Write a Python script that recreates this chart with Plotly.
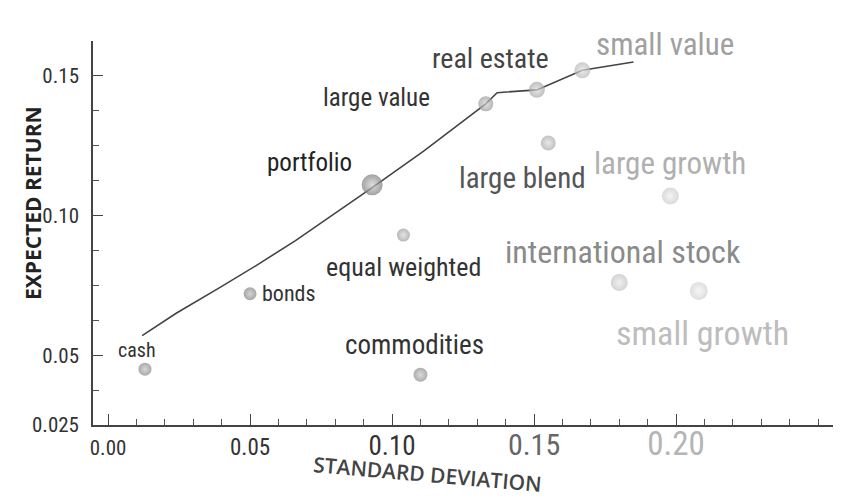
import plotly.graph_objects as go

# asset classes: risk (standard deviation) vs expected return
assets = ["cash", "bonds", "portfolio", "equal weighted", "commodities",
          "large value", "real estate", "small value", "large blend",
          "large growth", "international stock", "small growth"]
std_dev = [0.013, 0.050, 0.093, 0.104, 0.110, 0.133, 0.151, 0.167, 0.155, 0.198, 0.180, 0.208]
exp_ret = [0.045, 0.072, 0.111, 0.093, 0.043, 0.140, 0.145, 0.152, 0.126, 0.107, 0.076, 0.073]

# efficient frontier
frontier_sd = [0.012, 0.024, 0.039, 0.052, 0.066, 0.093, 0.111, 0.133, 0.137, 0.151, 0.167, 0.185]
frontier_ret = [0.057, 0.065, 0.074, 0.082, 0.091, 0.110, 0.123, 0.140, 0.144, 0.145, 0.152, 0.155]

x_ticks = [0.00, 0.05, 0.10, 0.15, 0.20]
x_labels = ["0.00", "0.05", "0.10", "0.15", "0.20"]
y_ticks = [0.025, 0.05, 0.10, 0.15]
y_labels = ["0.025", "0.05", "0.10", "0.15"]

# styling (text and points fade out to the right)
LABEL_FONT = "Roboto Condensed, DejaVu Sans Condensed, sans-serif"
TITLE_FONT = "Open Sans, DejaVu Sans, sans-serif"
label_size = [20, 22, 25, 26, 27, 25, 28, 31, 29, 31, 32, 34]
label_color = ["#333", "#333", "#222", "#333", "#333", "#333", "#444",
               "#a0a0a0", "#555", "#b0b0b0", "#8a8a8a", "#bdbdbd"]
# label offset from its point in pixels (dx, dy), anchor
label_pos = [(-8, 19, "center"), (10, 0, "left"), (-63, 22, "center"),
             (0, -32, "center"), (-6, 30, "center"), (-109, 6, "center"),
             (-46, 31, "center"), (12, 26, "left"), (-26, -35, "center"),
             (0, 33, "center"), (4, 31, "center"), (4, -42, "center")]
marker_size = [13, 13, 21, 13, 14, 15, 16, 16, 15, 17, 17, 18]
marker_edge = ["#858585", "#808080", "#7a7a7a", "#9a9a9a", "#8a8a8a", "#999999",
               "#a5a5a5", "#b5b5b5", "#a8a8a8", "#cacaca", "#c0c0c0", "#d0d0d0"]
marker_core = ["#c5c5c5", "#c0c0c0", "#cfcfcf", "#d8d8d8", "#cccccc", "#d5d5d5",
               "#dddddd", "#e5e5e5", "#dedede", "#efefef", "#eaeaea", "#f2f2f2"]
x_tick_size = [21, 23, 27, 30, 33]
x_tick_color = ["#333", "#333", "#333", "#666", "#b5b5b5"]

fig = go.Figure()

fig.add_trace(go.Scatter(
    x=frontier_sd, y=frontier_ret, mode="lines",
    line=dict(color="#444", width=1.6), hoverinfo="skip", showlegend=False
))

fig.add_trace(go.Scatter(
    x=std_dev, y=exp_ret, mode="markers", text=assets,
    marker=dict(size=marker_size, color=marker_edge,
                gradient=dict(type="radial", color=marker_core),
                line=dict(width=0)),
    hovertemplate="<b>%{text}</b><br>SD: %{x:.3f}<br>Return: %{y:.3f}<extra></extra>",
    showlegend=False
))

for name, sx, sy, size, color, (dx, dy, anchor) in zip(
        assets, std_dev, exp_ret, label_size, label_color, label_pos):
    fig.add_annotation(
        x=sx, y=sy, text=name, showarrow=False,
        xanchor=anchor, yanchor="middle", xshift=dx, yshift=dy,
        font=dict(family=LABEL_FONT, size=size, color=color)
    )

x_ticktext = [f'<span style="font-size:{s}px;fill:{c}">{t}</span>'
              for t, s, c in zip(x_labels, x_tick_size, x_tick_color)]

fig.update_xaxes(
    range=[-0.0053, 0.2609],
    tickmode="array", tickvals=x_ticks, ticktext=x_ticktext,
    tickangle=0,
    ticks="inside", ticklen=11, tickwidth=1.3, tickcolor="#444",
    minor=dict(dtick=0.01, tick0=0, ticks="inside", ticklen=6,
               tickwidth=1, tickcolor="#555"),
    ticklabelstandoff=2,
    tickfont=dict(family=LABEL_FONT, size=22, color="#333"),
    showline=True, linecolor="#444", linewidth=1.6,
    showgrid=False, zeroline=False
)

fig.update_yaxes(
    range=[0.025, 0.1625],
    tickmode="array", tickvals=y_ticks, ticktext=y_labels,
    ticks="inside", ticklen=10, tickwidth=1.3, tickcolor="#444",
    minor=dict(dtick=0.0125, tick0=0.025, ticks="inside", ticklen=6,
               tickwidth=1, tickcolor="#555"),
    ticklabelstandoff=8,
    tickfont=dict(family=LABEL_FONT, size=21, color="#333"),
    showline=True, linecolor="#444", linewidth=1.6,
    showgrid=False, zeroline=False
)

fig.add_annotation(
    text="EXPECTED RETURN", xref="paper", yref="paper",
    x=0, y=0.578, xanchor="center", yanchor="middle", xshift=-60,
    textangle=-90, showarrow=False,
    font=dict(family=TITLE_FONT, size=21, color="#222", weight=700)
)
fig.add_annotation(
    text="STANDARD DEVIATION", xref="paper", yref="paper",
    x=0.443, y=-0.128, xanchor="center", yanchor="middle",
    textangle=5, showarrow=False,
    font=dict(family=TITLE_FONT, size=21, color="#444", weight=600)
)

fig.update_layout(
    width=841, height=500,
    margin=dict(l=85, r=0, t=33, b=83),
    plot_bgcolor="white", paper_bgcolor="white",
    showlegend=False
)

fig.write_html("out.html")
